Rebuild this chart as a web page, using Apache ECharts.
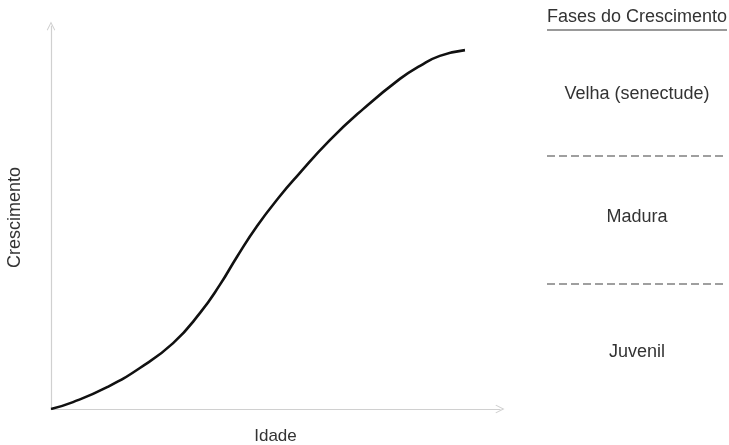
<!DOCTYPE html>
<html>
<head>
<meta charset="utf-8">
<script src="https://cdn.jsdelivr.net/npm/echarts@6/dist/echarts.min.js"></script>
<style>html,body{margin:0;padding:0;background:#fff;}#c{width:729px;height:445px;}</style>
</head>
<body>
<div id="c"></div>
<script>
var idade = [0, 4.9, 12.5, 19.8, 27.2, 33.2, 37.6, 41.4, 45.9, 51.0, 54.8, 62.1, 69.5, 77.7, 82.2, 86.6, 92.2];
var crescimento = [0, 1.8, 5.7, 10.7, 17.2, 25.1, 32.4, 39.7, 47.8, 55.6, 60.8, 70.2, 78.3, 86.2, 89.6, 92.2, 93.7];
var faseTitulo = 'Fases do Crescimento';
var fases = ['Velha (senectude)', 'Madura', 'Juvenil'];
var xName = 'Idade';
var yName = 'Crescimento';

var chart = echarts.init(document.getElementById('c'), null, {renderer: 'canvas'});
var arrowPath = 'path://M0,10 L5,0 L10,10 L9,10.6 L5,2.6 L1,10.6 Z';
var font = 'Liberation Sans, Arial, sans-serif';
var textColor = '#333';
var right = 637;
chart.setOption({
  animation: false,
  grid: {left: 51, top: 26, width: 449, height: 383, outerBoundsMode: 'none', containLabel: false},
  xAxis: {
    type: 'value', min: 0, max: 100,
    name: xName, nameLocation: 'middle', nameGap: 19,
    nameTextStyle: {color: textColor, fontSize: 17, fontFamily: font},
    axisLine: {show: true, symbol: ['none', arrowPath], symbolSize: [9, 9], lineStyle: {color: '#d0d0d0', width: 1.2}},
    axisTick: {show: false}, axisLabel: {show: false}, splitLine: {show: false}
  },
  yAxis: {
    type: 'value', min: 0, max: 100,
    name: yName, nameLocation: 'middle', nameGap: 27,
    nameTextStyle: {color: textColor, fontSize: 18, fontFamily: font},
    axisLine: {show: true, symbol: ['none', arrowPath], symbolSize: [9, 9], lineStyle: {color: '#d0d0d0', width: 1.2}},
    axisTick: {show: false}, axisLabel: {show: false}, splitLine: {show: false}
  },
  series: [{
    type: 'line',
    data: idade.map(function (x, i) { return [x, crescimento[i]]; }),
    smooth: 0.5,
    showSymbol: false,
    lineStyle: {color: '#111', width: 2.6}
  }],
  graphic: [
    {type: 'text', x: right, y: 17, style: {text: faseTitulo, fill: textColor, font: '18px ' + font, textAlign: 'center', textVerticalAlign: 'middle'}},
    {type: 'line', shape: {x1: 547, y1: 30, x2: 727, y2: 30}, style: {stroke: '#777', lineWidth: 1.5}},
    {type: 'text', x: right, y: 94, style: {text: fases[0], fill: textColor, font: '18px ' + font, textAlign: 'center', textVerticalAlign: 'middle'}},
    {type: 'line', shape: {x1: 547, y1: 156, x2: 727, y2: 156}, style: {stroke: '#808080', lineWidth: 1.4, lineDash: [8, 4]}},
    {type: 'text', x: right, y: 217, style: {text: fases[1], fill: textColor, font: '18px ' + font, textAlign: 'center', textVerticalAlign: 'middle'}},
    {type: 'line', shape: {x1: 547, y1: 284, x2: 727, y2: 284}, style: {stroke: '#808080', lineWidth: 1.4, lineDash: [8, 4]}},
    {type: 'text', x: right, y: 352, style: {text: fases[2], fill: textColor, font: '18px ' + font, textAlign: 'center', textVerticalAlign: 'middle'}}
  ]
});
</script>
</body>
</html>
